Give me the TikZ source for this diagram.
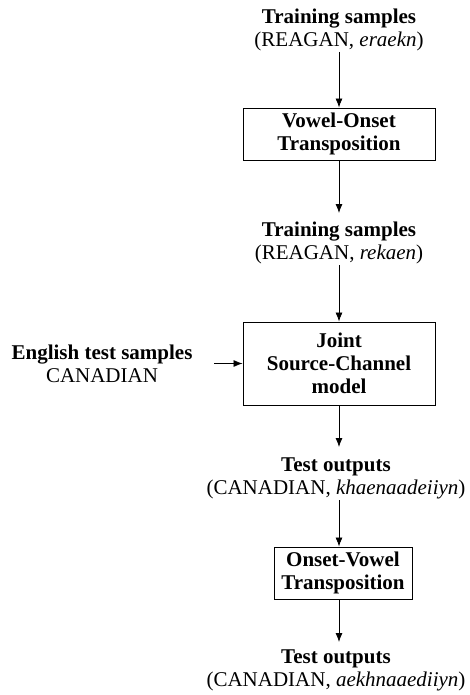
\documentclass[tikz,border=0pt]{standalone}
\usepackage{fontspec}
\setmainfont{Liberation Serif}
\usetikzlibrary{arrows.meta}
\begin{document}
\begin{tikzpicture}[x=1pt,y=-1pt,
  txt/.style={align=center,inner sep=0pt,font=\fontsize{21}{23}\selectfont},
  proc/.style={draw,line width=0.9pt,align=center,inner sep=0pt,font=\fontsize{21}{23}\selectfont\bfseries},
  arr/.style={line width=0.8pt,-{Latex[length=9pt,width=7pt]}}]
\useasboundingbox (0,0) rectangle (470,695);
\node[txt] (t1) at (339,30) {\textbf{Training samples}\\(REAGAN, \textit{eraekn})};
\node[proc,minimum width=192pt,minimum height=52pt] (b1) at (339,134) {Vowel-Onset\\Transposition};
\node[txt] (t2) at (339,243) {\textbf{Training samples}\\(REAGAN, \textit{rekaen})};
\node[proc,minimum width=192pt,minimum height=83pt] (b2) at (339,363.5) {Joint\\Source-Channel\\model};
\node[txt] (e) at (102,364) {\textbf{English test samples}\\CANADIAN};
\node[txt] (t3) at (336,478) {\textbf{Test outputs}\\(CANADIAN, \textit{khaenaadeiiyn})};
\node[proc,minimum width=138pt,minimum height=52pt] (b3) at (343,573) {Onset-Vowel\\Transposition};
\node[txt] (t4) at (336,670) {\textbf{Test outputs}\\(CANADIAN, \textit{aekhnaaediiyn})};
\coordinate (c1) at (339,52);
\coordinate (c2) at (339,265);
\coordinate (c3) at (339,500);
\coordinate (c4) at (214,363.5);
\coordinate (d1) at (339,213);
\coordinate (d2) at (339,447);
\coordinate (d3) at (339,642);
\draw[arr] (c1) -- (b1.north);
\draw[arr] (b1.south) -- (d1);
\draw[arr] (c2) -- (b2.north);
\draw[arr] (c4) -- (b2.west);
\draw[arr] (b2.south) -- (d2);
\draw[arr] (c3) -- (c3 |- b3.north);
\draw[arr] (c3 |- b3.south) -- (d3);
\end{tikzpicture}
\end{document}
